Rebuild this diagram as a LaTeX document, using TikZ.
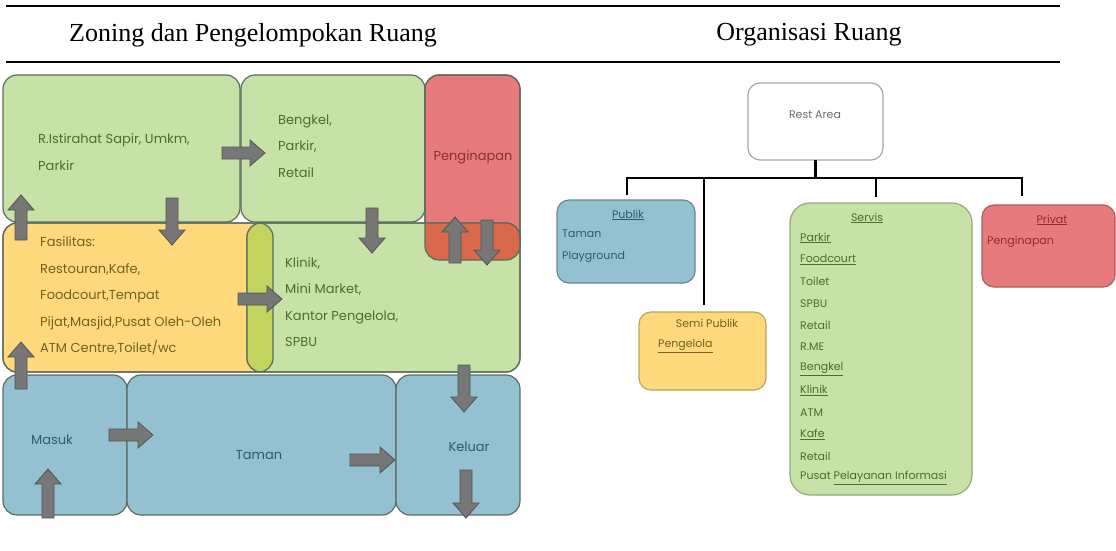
\documentclass[tikz,border=0pt]{standalone}
\usepackage{fontspec}
\setmainfont{Liberation Serif}
\newfontfamily\gothic{Poppins}
\usetikzlibrary{positioning}

\definecolor{zonegreen}{HTML}{C6E2A6}
\definecolor{zoneyellow}{HTML}{FFD97C}
\definecolor{zonered}{HTML}{E77B7B}
\definecolor{zoneblue}{HTML}{94C1D2}
\definecolor{zonelime}{HTML}{C2D45E}
\definecolor{zonerust}{HTML}{D9694A}
\definecolor{edgegray}{HTML}{5E6B5E}
\definecolor{arrfill}{HTML}{777777}
\definecolor{arrline}{HTML}{545454}
\definecolor{txtgreen}{HTML}{4F6B2F}
\definecolor{txtyellow}{HTML}{75601F}
\definecolor{txtred}{HTML}{8E2F2F}
\definecolor{txtblue}{HTML}{2F5A6E}

\begin{document}
\begin{tikzpicture}[x=1pt,y=-1pt,
    zone/.style={rectangle, rounded corners=14pt, outer sep=0pt, inner sep=0pt,
      draw=edgegray, line width=1.2pt},
    orgbox/.style={rectangle, rounded corners=12pt, outer sep=0pt, inner sep=0pt,
      line width=1.2pt},
    zonetxt/.style={font=\gothic\fontsize{13}{26.5}\selectfont, align=left, anchor=west, inner sep=0pt},
    orgtxt/.style={font=\gothic\fontsize{11}{21.8}\selectfont, inner sep=0pt},
    link/.style={draw=black, line width=2.4pt},
    arrowbody/.style={fill=arrfill, draw=arrline, line width=0.8pt, line join=miter}]
  \useasboundingbox (0,0) rectangle (1116,550);
  %
  % macro: block arrow at tail x, tail y, angle, length
  \newcommand{\flowarr}[4]{
    \draw[arrowbody, shift={(#1,#2)}, rotate=#3]
      (0,-6) -- (#4-15,-6) -- (#4-15,-13) -- (#4,0) -- (#4-15,13) -- (#4-15,6) -- (0,6) -- cycle;
  }
  %
  % header rules and titles
  \draw[line width=2.4pt] (6,6) -- (1060,6);
  \draw[line width=2.4pt] (6,62) -- (1060,62);
  \node[font=\fontsize{26}{30}\selectfont] (zoningtitle) at (253,35) {Zoning dan Pengelompokan Ruang};
  \node[font=\fontsize{26}{30}\selectfont] (orgtitle) at (809,35) {Organisasi Ruang};
  %
  % zoning blocks
  \node[zone, fill=zonegreen, minimum width=237pt, minimum height=147pt] (istirahat) at (121.5,148.5) {};
  \node[zone, fill=zonegreen, minimum width=184pt, minimum height=147pt] (bengkel) at (333,148.5) {};
  \node[zone, fill=zonered, minimum width=95pt, minimum height=185pt] (inap) at (472.5,167.5) {};
  \node[zone, fill=zoneyellow, minimum width=270pt, minimum height=149pt] (fasilitas) at (138,297.5) {};
  \node[zone, fill=zonegreen, minimum width=273pt, minimum height=149pt] (klinik) at (383.5,297.5) {};
  %
  % overlaps
  \begin{scope}
    \clip[rounded corners=14pt] (fasilitas.north west) rectangle (fasilitas.south east);
    \fill[zonelime, rounded corners=14pt] (klinik.north west) rectangle (klinik.south east);
  \end{scope}
  \begin{scope}
    \clip[rounded corners=14pt] (klinik.north west) rectangle (klinik.south east);
    \fill[zonerust, rounded corners=14pt] (inap.north west) rectangle (inap.south east);
  \end{scope}
  \draw[edgegray, line width=1.2pt, rounded corners=14pt] (fasilitas.north west) rectangle (fasilitas.south east);
  \draw[edgegray, line width=1.2pt, rounded corners=14pt] (klinik.north west) rectangle (klinik.south east);
  \draw[edgegray, line width=1.2pt, rounded corners=14pt] (inap.north west) rectangle (inap.south east);
  %
  \node[zone, fill=zoneblue, minimum width=124pt, minimum height=140pt] (masuk) at (65,445) {};
  \node[zone, fill=zoneblue, minimum width=269pt, minimum height=140pt] (taman) at (261.5,445) {};
  \node[zone, fill=zoneblue, minimum width=124pt, minimum height=140pt] (keluar) at (458,445) {};
  %
  % zoning labels
  \node[zonetxt, text=txtgreen] (istirahattxt) at (38,152) {R.Istirahat Sapir, Umkm,\\Parkir};
  \node[zonetxt, text=txtgreen] (bengkeltxt) at (278,146) {Bengkel,\\Parkir,\\Retail};
  \node[zonetxt, text=txtred, anchor=center] (inaptxt) at (473,157) {Penginapan};
  \node[zonetxt, text=txtyellow] (fasilitastxt) at (40,296) {Fasilitas:\\Restouran,Kafe,\\Foodcourt,Tempat\\Pijat,Masjid,Pusat Oleh-Oleh\\ATM Centre,Toilet/wc};
  \node[zonetxt, text=txtgreen] (kliniktxt) at (285,302) {Klinik,\\Mini Market,\\Kantor Pengelola,\\SPBU};
  \node[zonetxt, text=txtblue, anchor=center] (masuktxt) at (52,440) {Masuk};
  \node[zonetxt, text=txtblue, anchor=center] (tamantxt) at (259,455) {Taman};
  \node[zonetxt, text=txtblue, anchor=center] (keluartxt) at (469,447) {Keluar};
  %
  % flow arrows
  \flowarr{222}{153}{0}{43}
  \flowarr{21}{240}{90}{45}
  \flowarr{172}{198}{-90}{47}
  \flowarr{372}{208}{-90}{45}
  \flowarr{238}{299}{0}{44}
  \flowarr{455}{263}{90}{46}
  \flowarr{487}{220}{-90}{45}
  \flowarr{21}{389}{90}{47}
  \flowarr{109}{435}{0}{44}
  \flowarr{350}{460}{0}{45}
  \flowarr{464}{365}{-90}{47}
  \flowarr{466}{470}{-90}{48}
  \flowarr{48}{518}{90}{49}
  %
  % organisation chart
  \node[orgbox, draw=gray!70, fill=white, minimum width=135pt, minimum height=77pt] (rest) at (815.5,121.5) {};
  \node[orgtxt, text=gray!85!black] (resttxt) at (815,115) {Rest Area};
  \node[orgbox, draw=zoneblue!70!black, fill=zoneblue, minimum width=138pt, minimum height=83pt] (publik) at (626,241.5) {};
  \node[orgbox, draw=zoneyellow!75!black, fill=zoneyellow, minimum width=127pt, minimum height=78pt] (semi) at (702.5,351) {};
  \node[orgbox, draw=zonegreen!75!black, fill=zonegreen, rounded corners=20pt, minimum width=182pt, minimum height=292pt] (servis) at (881,349) {};
  \node[orgbox, draw=zonered!75!black, fill=zonered, minimum width=133pt, minimum height=82pt] (privat) at (1048.5,246) {};
  %
  \node[orgtxt, text=txtblue] (publiktitle) at (628,215) {\underline{Publik}};
  \node[orgtxt, text=txtblue, anchor=west, align=left] (publiktxt) at (562,246) {Taman\\Playground};
  \node[orgtxt, text=txtyellow] (semititle) at (707,323) {Semi Publik};
  \node[orgtxt, text=txtyellow, anchor=west] (semitxt) at (658,346) {\underline{Pengelola}};
  \node[orgtxt, text=txtgreen] (servistitle) at (867,218) {\underline{Servis}};
  \foreach \entry [count=\i from 0] in {\underline{Parkir}, \underline{Foodcourt}, Toilet, SPBU, Retail, R.ME,
      \underline{Bengkel}, \underline{Klinik}, ATM, \underline{Kafe}, Retail, Pusat \underline{Pelayanan Informasi}}
    \node[orgtxt, text=txtgreen, anchor=west] (srv\i) at (800,238+21.8*\i) {\entry};
  \node[orgtxt, text=txtred] (privattitle) at (1052,220) {\underline{Privat}};
  \node[orgtxt, text=txtred, anchor=west] (privattxt) at (987,242) {Penginapan};
  %
  \coordinate (bus) at (815,178);
  \coordinate (pubtop) at (627,195);
  \coordinate (semitop) at (704,305);
  \coordinate (servtop) at (876,197);
  \coordinate (privtop) at (1022,196);
  \draw[link] (rest.south) -- (rest.south |- bus);
  \draw[link] (pubtop) -- (pubtop |- bus) -- (privtop |- bus) -- (privtop);
  \draw[link] (semitop) -- (semitop |- bus);
  \draw[link] (servtop) -- (servtop |- bus);
\end{tikzpicture}
\end{document}
